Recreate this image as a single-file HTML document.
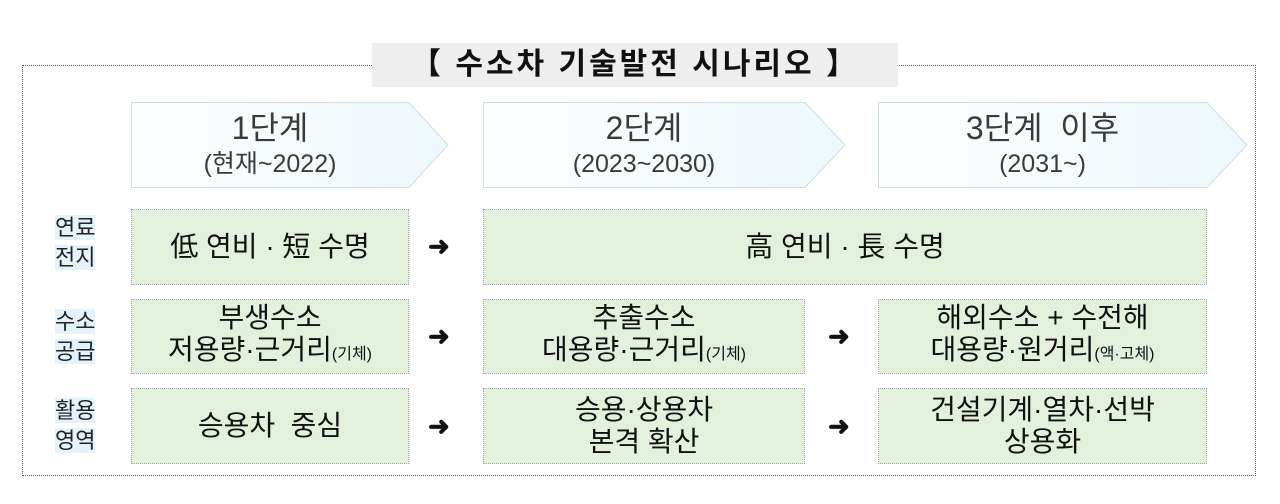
<!DOCTYPE html>
<html><head><meta charset="utf-8"><style>
body{margin:0;width:1280px;height:504px;background:#fff;position:relative;overflow:hidden;font-family:"Liberation Sans","Noto Sans CJK KR","NanumGothic",sans-serif;color:#111}
.a{position:absolute}
.outer{left:22px;top:65px;width:1234px;height:411px;border:1px dotted #555;box-sizing:border-box}
.title{left:372px;top:43px;width:526px;height:44px;background:#eeeeee;font-size:30px;font-weight:bold;text-align:center;line-height:44px;letter-spacing:3px;white-space:nowrap}
.g{background:#e3f0dc;border:1px dotted #9aa;box-sizing:border-box;display:flex;align-items:center;justify-content:center;text-align:center;font-size:28px;line-height:32px;white-space:nowrap}
.lab{font-size:22px;line-height:30px;color:#222}
.lab span{background:#e4f3fb}
.arr{font-size:26px;font-weight:bold}
.ch{text-align:center;color:#3a3a3a}
.sm{font-size:16px}
</style></head><body>
<div class="a outer"></div>
<div class="a title">【 수소차 기술발전 시나리오 】</div>
<svg class="a" style="left:0;top:0" width="1280" height="504">
<defs><linearGradient id="cg" x1="0" x2="1"><stop offset="0" stop-color="#fdfeff"/><stop offset="1" stop-color="#eef7fb"/></linearGradient></defs>
<polygon points="131.5,102.5 409,102.5 448,145 409,187.5 131.5,187.5" fill="url(#cg)" stroke="#c9dfe4"/>
<polygon points="483.5,102.5 805,102.5 845,145 805,187.5 483.5,187.5" fill="url(#cg)" stroke="#c9dfe4"/>
<polygon points="878.5,102.5 1207,102.5 1247,145 1207,187.5 878.5,187.5" fill="url(#cg)" stroke="#c9dfe4"/>
</svg>
<div class="a ch" style="left:131px;top:108px;width:278px"><div style="font-size:32px;line-height:40px">1단계</div><div style="font-size:25px;line-height:32px">(현재~2022)</div></div>
<div class="a ch" style="left:483px;top:108px;width:322px"><div style="font-size:32px;line-height:40px">2단계</div><div style="font-size:25px;line-height:32px">(2023~2030)</div></div>
<div class="a ch" style="left:878px;top:108px;width:329px"><div style="font-size:32px;line-height:40px">3단계&nbsp; 이후</div><div style="font-size:25px;line-height:32px">(2031~)</div></div>

<div class="a lab" style="left:55px;top:213px"><span>연료</span><br><span>전지</span></div>
<div class="a lab" style="left:55px;top:307px"><span>수소</span><br><span>공급</span></div>
<div class="a lab" style="left:55px;top:396px"><span>활용</span><br><span>영역</span></div>

<div class="a g" style="left:131px;top:209px;width:278px;height:76px">低 연비 · 短 수명</div>
<div class="a g" style="left:483px;top:209px;width:724px;height:76px">高 연비 · 長 수명</div>

<div class="a g" style="left:131px;top:299px;width:278px;height:75px"><div>부생수소<br>저용량·근거리<span class="sm">(기체)</span></div></div>
<div class="a g" style="left:483px;top:299px;width:322px;height:75px"><div>추출수소<br>대용량·근거리<span class="sm">(기체)</span></div></div>
<div class="a g" style="left:878px;top:299px;width:329px;height:75px"><div>해외수소 + 수전해<br>대용량·원거리<span class="sm">(액·고체)</span></div></div>

<div class="a g" style="left:131px;top:388px;width:278px;height:76px">승용차&nbsp; 중심</div>
<div class="a g" style="left:483px;top:388px;width:322px;height:76px"><div>승용·상용차<br>본격 확산</div></div>
<div class="a g" style="left:878px;top:388px;width:329px;height:76px"><div>건설기계·열차·선박<br>상용화</div></div>

<div class="a arr" style="left:428px;top:231px">➜</div>
<div class="a arr" style="left:428px;top:321px">➜</div>
<div class="a arr" style="left:428px;top:411px">➜</div>
<div class="a arr" style="left:828px;top:321px">➜</div>
<div class="a arr" style="left:828px;top:411px">➜</div>
</body></html>
